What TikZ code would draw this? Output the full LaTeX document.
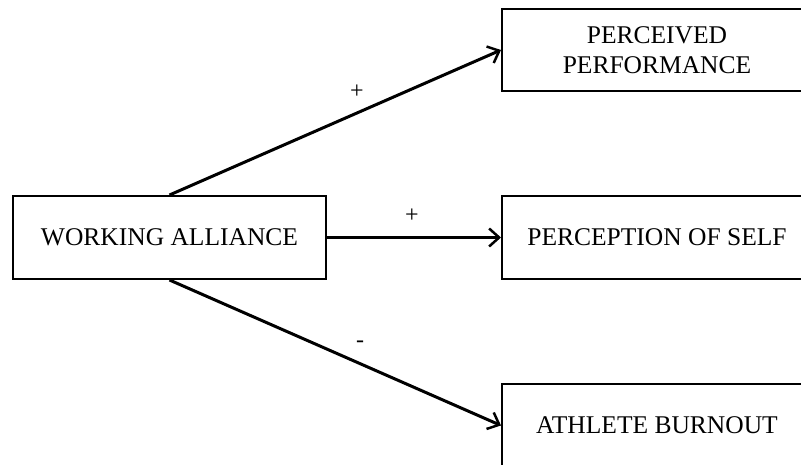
\documentclass[tikz,border=0pt]{standalone}
\usepackage{fontspec}
\setmainfont{Liberation Serif}
\usetikzlibrary{arrows.meta}
\begin{document}
\begin{tikzpicture}[x=1pt,y=-1pt,
  box/.style={draw, line width=2pt, inner sep=0pt, align=center,
    font=\fontsize{25.5}{30}\selectfont},
  conn/.style={line width=3pt, -{Straight Barb[length=10pt,width=18pt,line width=2.5pt]}},
  sign/.style={font=\fontsize{24}{26}\selectfont, inner sep=0pt}]
\useasboundingbox (0,0) rectangle (801,465);
\fill[white] (0,0) rectangle (801,465);
\clip (0,0) rectangle (801,465);
\node[box, minimum width=313pt, minimum height=83pt] (wa) at (169.5,237.5) {WORKING ALLIANCE};
\node[box, minimum width=310pt, minimum height=82pt] (pp) at (657,50) {PERCEIVED\\PERFORMANCE};
\node[box, minimum width=310pt, minimum height=83pt] (ps) at (657,237.5) {PERCEPTION OF SELF};
\node[box, minimum width=310pt, minimum height=83pt] (ab) at (657,425.5) {ATHLETE BURNOUT};
\draw[conn] (wa.north) -- (pp.west);
\draw[conn] (wa.east) -- (ps.west);
\draw[conn] (wa.south) -- (ab.west);
\node[sign] (s1) at (357,92) {+};
\node[sign] (s2) at (412,216) {+};
\node[sign] (s3) at (360,344) {-};
\end{tikzpicture}
\end{document}
